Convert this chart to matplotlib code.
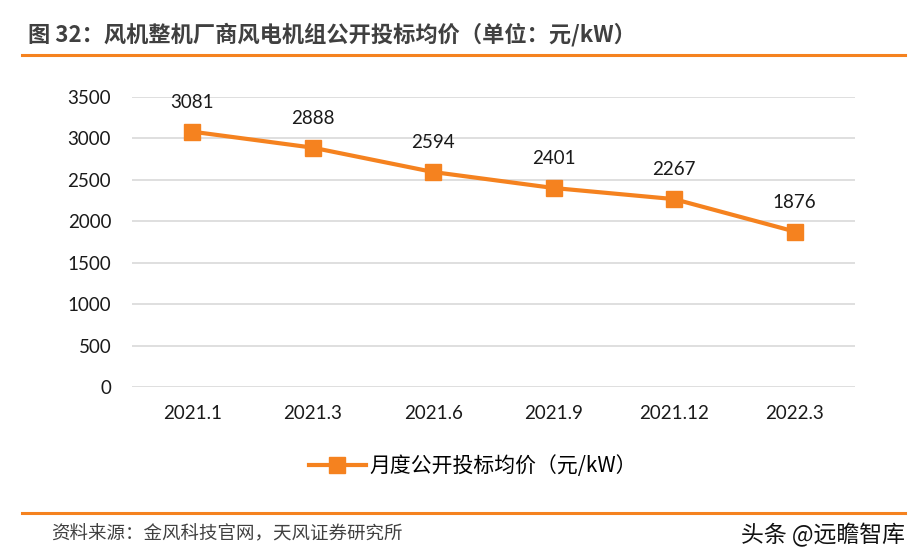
import matplotlib
matplotlib.use("Agg")
import matplotlib.pyplot as plt

categories = ["2021.1", "2021.3", "2021.6", "2021.9", "2021.12", "2022.3"]
prices = [3081, 2888, 2594, 2401, 2267, 1876]
yticks = [0, 500, 1000, 1500, 2000, 2500, 3000, 3500]

plt.rcParams['font.family'] = ['Lato', 'Noto Sans CJK SC', 'DejaVu Sans']
orange = "#F5821F"
cjk = ['Noto Sans CJK SC', 'DejaVu Sans']

fig = plt.figure(figsize=(9.21, 5.6), dpi=100)
ax = fig.add_axes([0.1433, 0.3089, 0.785, 0.518])

x = range(len(categories))
ax.plot(x, prices, color=orange, lw=3, marker='s', markersize=11, label="月度公开投标均价（元/kW）")
for xi, v in zip(x, prices):
    ax.annotate(str(v), (xi, v), xytext=(0, 15), textcoords='offset points',
                ha='center', va='bottom', fontsize=13.5, color='#1a1a1a')

ax.set_xlim(-0.5, len(categories) - 0.5)
ax.set_ylim(0, 3500)
ax.set_yticks(yticks)
ax.set_xticks(list(x))
ax.set_xticklabels(categories)
ax.tick_params(axis='both', length=0, labelsize=13.5, colors='#1a1a1a')
ax.tick_params(axis='y', pad=15)
ax.tick_params(axis='x', pad=13)
ax.grid(axis='y', color='#d9d9d9', lw=1.2)
ax.set_axisbelow(True)
for s in ax.spines.values():
    s.set_visible(False)

leg = ax.legend(loc='upper center', bbox_to_anchor=(0.472, -0.17), frameon=False,
                prop={'family': cjk, 'size': 15}, handlelength=2.7, handletextpad=0.2)

fig.text(0.030, 0.938, "图 32：风机整机厂商风电机组公开投标均价（单位：元/kW）",
         fontsize=16, fontweight='bold', color='#404040', family=cjk, va='center')
fig.add_artist(plt.Line2D([0.024, 0.983], [0.902, 0.902], color=orange, lw=2.2,
                          transform=fig.transFigure))
fig.add_artist(plt.Line2D([0.024, 0.983], [0.084, 0.084], color=orange, lw=2.2,
                          transform=fig.transFigure))
fig.text(0.056, 0.045, "资料来源：金风科技官网，天风证券研究所", fontsize=13.3,
         color='#404040', family=cjk, va='center')
fig.text(0.983, 0.045, "头条 @远瞻智库", fontsize=16.5, color='#111111',
         family=cjk, va='center', ha='right')

fig.savefig("out.png", dpi=100)
